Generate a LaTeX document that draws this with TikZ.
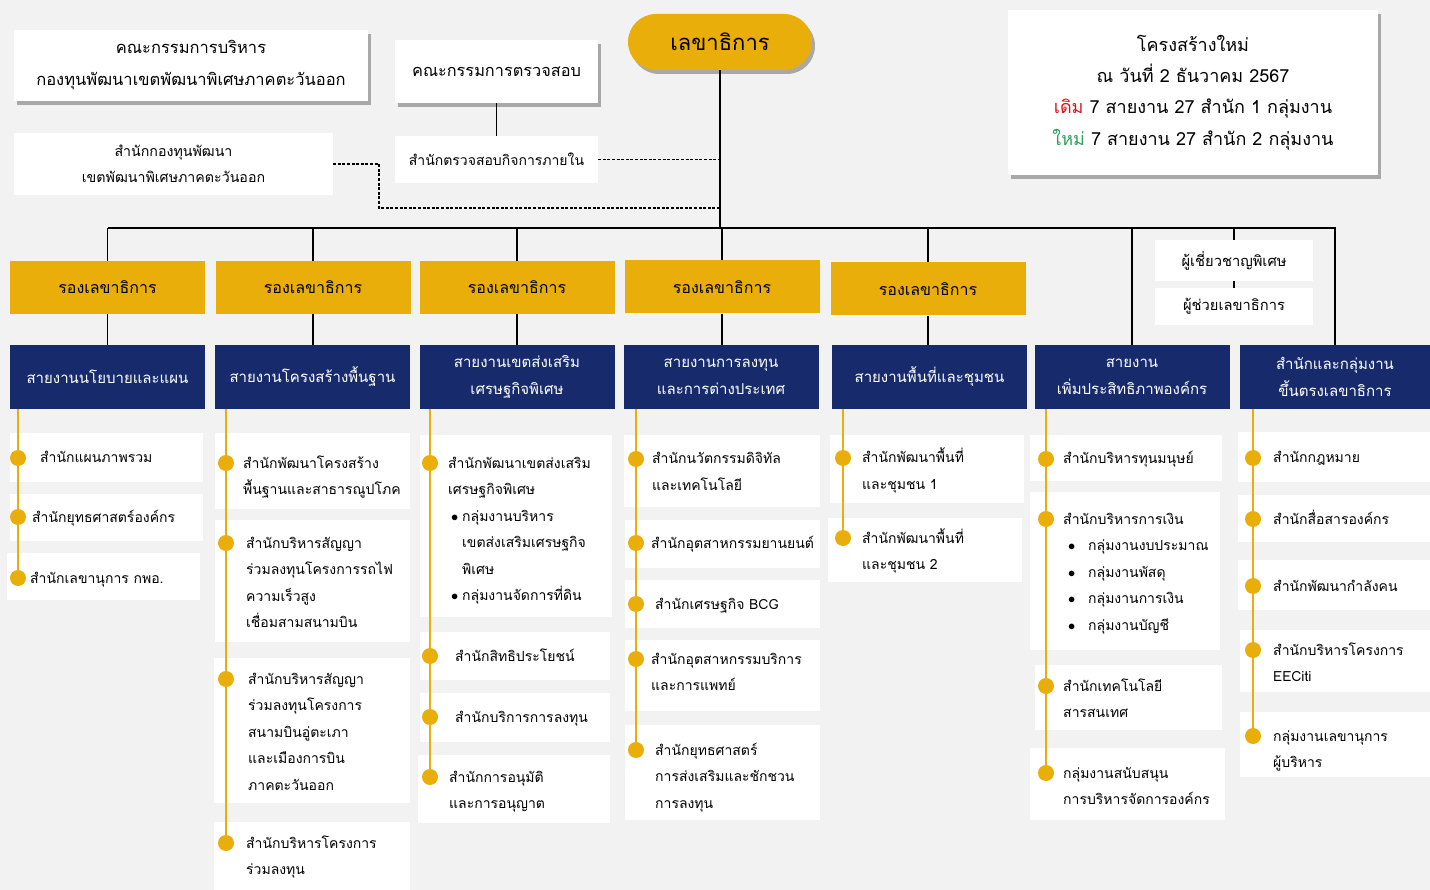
\documentclass[tikz,border=0pt]{standalone}
\usepackage{fontspec}
\newfontfamily\thai[Script=Thai]{Loma}
\usetikzlibrary{shadows,fit}
\definecolor{bg}{HTML}{F2F2F2}
\definecolor{gold}{HTML}{EAAE0A}
\definecolor{navy}{HTML}{172B6C}
\definecolor{oldred}{HTML}{E0101A}
\definecolor{newgreen}{HTML}{2EA05A}
\newcommand\orgbul{\hspace*{3pt}\makebox[11pt][l]{$\bullet$}}
\newcommand\orgind{\hspace*{14pt}}
\newcommand\orgbulw{\hspace*{5pt}\makebox[20pt][l]{$\bullet$}}
\tikzset{
 conn/.style={line width=1.6pt, black},
 dashconn/.style={line width=1.4pt, dash pattern=on 3pt off 1.6pt},
 tl/.style={line width=2.6pt, gold},
 whitebox/.style={fill=white, draw=none, inner sep=0pt},
 shadowed/.style={drop shadow={shadow xshift=3pt, shadow yshift=-4pt, fill=black, opacity=0.3}},
 topbox/.style={fill=white, inner sep=0pt, align=center},
 deputy/.style={fill=gold, minimum width=195pt, minimum height=53pt, inner sep=0pt, font=\thai\fontsize{16}{18}\selectfont},
 lanebox/.style={fill=navy, text=white, minimum width=195pt, minimum height=64pt, inner sep=0pt, align=center, font=\thai\fontsize{15}{27}\selectfont},
 tdot/.style={circle, fill=gold, minimum size=16pt, inner sep=0pt},
 itext/.style={anchor=base west, inner sep=0pt, text width=190pt, align=left, font=\thai\fontsize{14}{26.5}\selectfont},
}
\newcommand\orgitem[9]{%
 \node[whitebox, fit={(#2,#3) (#4,#5)}] (#1) {};
 \node[tdot] (#1d) at (#6,#7) {};
 \node[itext] (#1t) at (#8,#7+5) {#9};
}
\begin{document}
\begin{tikzpicture}[x=1pt,y=-1pt]
\useasboundingbox (0,0) rectangle (1430,890);
\fill[bg] (0,0) rectangle (1430,890);

% top boxes
\node[topbox, shadowed, minimum width=354pt, minimum height=71pt, font=\thai\fontsize{16.5}{32}\selectfont] (exec) at (191,65.5) {คณะกรรมการบริหาร\\กองทุนพัฒนาเขตพัฒนาพิเศษภาคตะวันออก};
\node[topbox, shadowed, minimum width=203pt, minimum height=63pt, font=\thai\fontsize{16.3}{18}\selectfont] (aud) at (496.5,71.5) {คณะกรรมการตรวจสอบ};
\node[topbox, minimum width=319pt, minimum height=62pt, font=\thai\fontsize{14.2}{26}\selectfont] (fund) at (173.5,164) {สำนักกองทุนพัฒนา\\เขตพัฒนาพิเศษภาคตะวันออก};
\node[topbox, minimum width=203pt, minimum height=47pt, font=\thai\fontsize{14}{16}\selectfont] (iaud) at (496.5,159.5) {สำนักตรวจสอบกิจการภายใน};
\node[fill=gold, rounded corners=28pt, minimum width=184pt, minimum height=56pt, inner sep=0pt, shadowed, font=\thai\fontsize{22}{24}\selectfont] (boss) at (720,42) {เลขาธิการ};
\node[topbox, shadowed, minimum width=370pt, minimum height=165pt, font=\thai\fontsize{18}{31.3}\selectfont] (info) at (1193,92.5) {โครงสร้างใหม่\\ณ วันที่ 2 ธันวาคม 2567\\\textcolor{oldred}{เดิม} 7 สายงาน 27 สำนัก 1 กลุ่มงาน\\\textcolor{newgreen}{ใหม่} 7 สายงาน 27 สำนัก 2 กลุ่มงาน};

% deputies
\node[deputy] (d1) at (107.5,287.5) {รองเลขาธิการ};
\node[deputy] (d2) at (313,287.5) {รองเลขาธิการ};
\node[deputy] (d3) at (517,287.5) {รองเลขาธิการ};
\node[deputy] (d4) at (722,287) {รองเลขาธิการ};
\node[deputy] (d5) at (928,289) {รองเลขาธิการ};

% experts
\node[topbox, minimum width=158pt, minimum height=41pt, font=\thai\fontsize{14.7}{16}\selectfont] (e1) at (1234,260.5) {ผู้เชี่ยวชาญพิเศษ};
\node[topbox, minimum width=158pt, minimum height=37pt, font=\thai\fontsize{14.7}{16}\selectfont] (e2) at (1234,306.5) {ผู้ช่วยเลขาธิการ};

% lanes
\node[lanebox] (b1) at (107.5,377) {สายงานนโยบายและแผน};
\node[lanebox] (b2) at (312.5,377) {สายงานโครงสร้างพื้นฐาน};
\node[lanebox] (b3) at (517,377) {สายงานเขตส่งเสริม\\เศรษฐกิจพิเศษ};
\node[lanebox] (b4) at (721,377) {สายงานการลงทุน\\และการต่างประเทศ};
\node[lanebox] (b5) at (929.5,377) {สายงานพื้นที่และชุมชน};
\node[lanebox] (b6) at (1132,377) {สายงาน\\เพิ่มประสิทธิภาพองค์กร};
\node[lanebox, minimum width=190pt] (b7) at (1335,377) {สำนักและกลุ่มงาน\\ขึ้นตรงเลขาธิการ};

% connectors top
\coordinate (busL) at (108,228);
\coordinate (busR) at (1336,228);
\coordinate (dashX) at (379,208);
\coordinate (dashJ) at (720,208);
\draw[conn] (aud.south) -- (iaud.north);
\draw[dashconn] (fund.east) -| (dashX) -- (dashJ);
\draw[dashconn] (iaud.east) -- (iaud.east -| boss.south);
\draw[conn] (boss.south) -- (boss.south |- busL);
\draw[conn] (busL) -- (busR);
\foreach \d/\b in {d1/b1,d2/b2,d3/b3,d4/b4,d5/b5}{
 \draw[conn] (\d.north |- busL) -- (\d.north);
 \draw[conn] (\d.south) -- (\d.south |- \b.north);
}
\draw[conn] (b6.north |- busL) -- (b6.north);
\draw[conn] (b7.north |- busL) -- (b7.north);
\draw[conn] (e1.north |- busL) -- (e1.north);
\draw[conn] (e1.south) -- (e2.north);

% column 1
\orgitem{c1a}{10}{433}{203}{482}{18}{458}{40}{สำนักแผนภาพรวม}
\orgitem{c1b}{10}{494}{203}{541}{18}{517}{32}{สำนักยุทธศาสตร์องค์กร}
\orgitem{c1c}{7}{553}{200}{600}{18}{578}{30}{สำนักเลขานุการ กพอ.}
% column 2
\orgitem{c2a}{215}{433}{410}{509}{226}{463}{243}{สำนักพัฒนาโครงสร้าง\\พื้นฐานและสาธารณูปโภค}
\orgitem{c2b}{215}{520}{410}{642}{226}{543}{246}{สำนักบริหารสัญญา\\ร่วมลงทุนโครงการรถไฟ\\ความเร็วสูง\\เชื่อมสามสนามบิน}
\orgitem{c2c}{214}{658}{410}{803}{226}{679}{248}{สำนักบริหารสัญญา\\ร่วมลงทุนโครงการ\\สนามบินอู่ตะเภา\\และเมืองการบิน\\ภาคตะวันออก}
\orgitem{c2d}{214}{822}{410}{890}{226}{843}{246}{สำนักบริหารโครงการ\\ร่วมลงทุน}
% column 3
\orgitem{c3a}{420}{435}{612}{617}{430}{463}{448}{สำนักพัฒนาเขตส่งเสริม\\เศรษฐกิจพิเศษ\\\orgbul กลุ่มงานบริหาร\\\orgind เขตส่งเสริมเศรษฐกิจ\\\orgind พิเศษ\\\orgbul กลุ่มงานจัดการที่ดิน}
\orgitem{c3b}{420}{632}{610}{680}{430}{656}{455}{สำนักสิทธิประโยชน์}
\orgitem{c3c}{420}{693}{610}{742}{430}{717}{455}{สำนักบริการการลงทุน}
\orgitem{c3d}{418}{755}{610}{823}{430}{777}{449}{สำนักการอนุมัติ\\และการอนุญาต}
% column 4
\orgitem{c4a}{624}{435}{820}{507}{636}{459}{652}{สำนักนวัตกรรมดิจิทัล\\และเทคโนโลยี}
\orgitem{c4b}{625}{520}{820}{568}{636}{543}{651}{สำนักอุตสาหกรรมยานยนต์}
\orgitem{c4c}{625}{580}{820}{628}{636}{604}{655}{สำนักเศรษฐกิจ BCG}
\orgitem{c4d}{625}{640}{820}{711}{636}{659}{651}{สำนักอุตสาหกรรมบริการ\\และการแพทย์}
\orgitem{c4e}{625}{725}{820}{820}{636}{750}{655}{สำนักยุทธศาสตร์\\การส่งเสริมและชักชวน\\การลงทุน}
% column 5
\orgitem{c5a}{830}{435}{1024}{503}{843}{458}{862}{สำนักพัฒนาพื้นที่\\และชุมชน 1}
\orgitem{c5b}{828}{518}{1022}{582}{843}{538}{862}{สำนักพัฒนาพื้นที่\\และชุมชน 2}
% column 6
\orgitem{c6a}{1030}{435}{1222}{481}{1046}{459}{1063}{สำนักบริหารทุนมนุษย์}
\orgitem{c6b}{1030}{492}{1220}{650}{1046}{519}{1063}{สำนักบริหารการเงิน\\\orgbulw กลุ่มงานงบประมาณ\\\orgbulw กลุ่มงานพัสดุ\\\orgbulw กลุ่มงานการเงิน\\\orgbulw กลุ่มงานบัญชี}
\orgitem{c6c}{1035}{665}{1222}{730}{1046}{686}{1063}{สำนักเทคโนโลยี\\สารสนเทศ}
\orgitem{c6d}{1030}{748}{1225}{820}{1046}{773}{1063}{กลุ่มงานสนับสนุน\\การบริหารจัดการองค์กร}
% column 7
\orgitem{c7a}{1238}{432}{1430}{482}{1253}{458}{1273}{สำนักกฎหมาย}
\orgitem{c7b}{1238}{495}{1430}{542}{1253}{519}{1273}{สำนักสื่อสารองค์กร}
\orgitem{c7c}{1238}{560}{1430}{610}{1253}{586}{1273}{สำนักพัฒนากำลังคน}
\orgitem{c7d}{1240}{630}{1430}{692}{1253}{650}{1273}{สำนักบริหารโครงการ\\EECiti}
\orgitem{c7e}{1240}{712}{1430}{777}{1253}{736}{1273}{กลุ่มงานเลขานุการ\\ผู้บริหาร}

% timelines
\draw[tl] (b1.south -| c1ad) -- (c1cd.center);
\draw[tl] (b2.south -| c2ad) -- (c2dd.center);
\draw[tl] (b3.south -| c3ad) -- (c3dd.center);
\draw[tl] (b4.south -| c4ad) -- (c4ed.center);
\draw[tl] (b5.south -| c5ad) -- (c5bd.center);
\draw[tl] (b6.south -| c6ad) -- (c6dd.center);
\draw[tl] (b7.south -| c7ad) -- (c7ed.center);
\end{tikzpicture}
\end{document}
